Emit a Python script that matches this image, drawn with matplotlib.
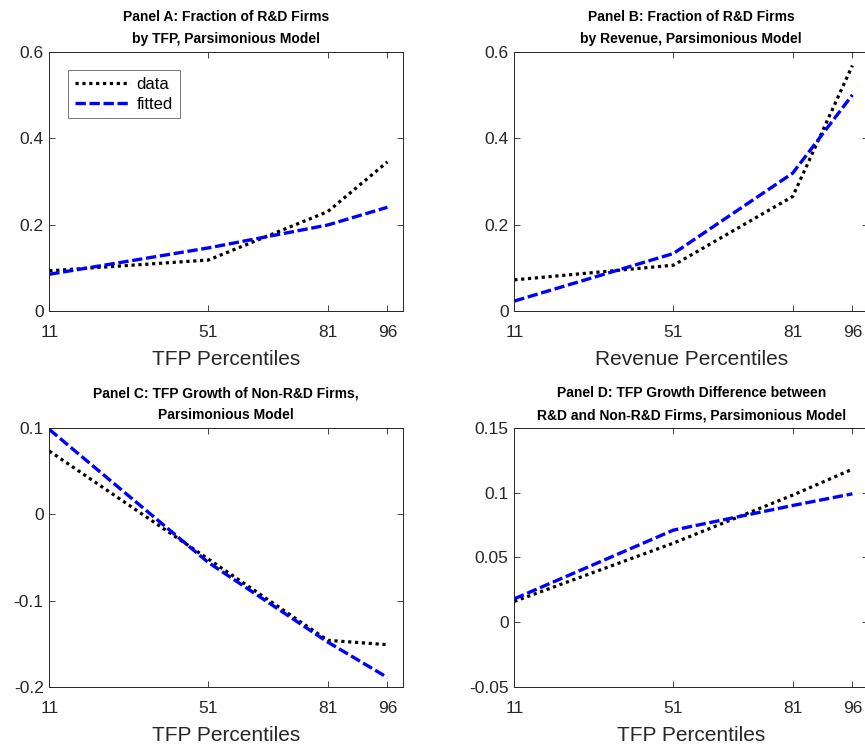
import numpy as np
import matplotlib
matplotlib.use("Agg")
import matplotlib.pyplot as plt
from matplotlib.ticker import FuncFormatter

# percentiles on the x axis
pct = [11, 51, 81, 96]

# Panel A: fraction of R&D firms by TFP
a_data = [0.093, 0.118, 0.230, 0.345]
a_fit = [0.085, 0.146, 0.199, 0.240]
# Panel B: fraction of R&D firms by revenue
b_data = [0.072, 0.106, 0.265, 0.568]
b_fit = [0.023, 0.133, 0.319, 0.500]
# Panel C: TFP growth of non-R&D firms
c_data = [0.073, -0.052, -0.146, -0.151]
c_fit = [0.098, -0.056, -0.148, -0.189]
# Panel D: TFP growth difference R&D vs non-R&D
d_data = [0.016, 0.061, 0.098, 0.118]
d_fit = [0.018, 0.071, 0.090, 0.099]

titles = ["Panel A: Fraction of R&D Firms\nby TFP, Parsimonious Model",
          "Panel B: Fraction of R&D Firms\nby Revenue, Parsimonious Model",
          "Panel C: TFP Growth of Non-R&D Firms,\nParsimonious Model",
          "Panel D: TFP Growth Difference between\nR&D and Non-R&D Firms, Parsimonious Model"]
xlabels = ["TFP Percentiles", "Revenue Percentiles", "TFP Percentiles", "TFP Percentiles"]
ylims = [(0, 0.6), (0, 0.6), (-0.2, 0.1), (-0.05, 0.15)]
yticks = [[0, 0.2, 0.4, 0.6], [0, 0.2, 0.4, 0.6], [-0.2, -0.1, 0, 0.1],
          [-0.05, 0, 0.05, 0.1, 0.15]]
series = [(a_data, a_fit), (b_data, b_fit), (c_data, c_fit), (d_data, d_fit)]

plt.rcParams['font.family'] = ['Liberation Sans', 'DejaVu Sans']
grey = '#262626'

fig = plt.figure(figsize=(8.65, 7.52), dpi=100)
W, H = 865, 752
boxes = [(49.3, 51.7), (514.3, 51.7), (49.3, 427.7), (514.3, 427.7)]
aw, ah = 354, 259.3

def fmt(v, pos):
    return '%g' % round(v, 4)

for i, (x0, y0) in enumerate(boxes):
    ax = fig.add_axes([x0 / W, 1 - (y0 + ah) / H, aw / W, ah / H])
    dat, fit = series[i]
    ax.plot(pct, dat, color='black', lw=2.3, linestyle=(0, (1.0, 1.15)),
            label='data', dash_capstyle='butt')
    ax.plot(pct, fit, color='#0000ff', lw=2.4, linestyle=(0, (3.1, 1.1)),
            label='fitted', dash_capstyle='butt')
    ax.set_xlim(11, 100)
    ax.set_ylim(*ylims[i])
    ax.set_xticks(pct)
    ax.set_yticks(yticks[i])
    ax.yaxis.set_major_formatter(FuncFormatter(fmt))
    ax.tick_params(direction='in', length=4, width=0.6, top=True, right=True,
                   labelsize=12.5, colors=grey)
    ax.tick_params(axis='x', pad=10)
    ax.tick_params(axis='y', pad=4)
    for sp in ax.spines.values():
        sp.set_color(grey)
        sp.set_linewidth(0.7)
    ax.set_xlabel(xlabels[i], fontsize=15, color=grey, labelpad=7)
    ax.set_title(titles[i], fontsize=10, fontweight='bold', pad=6, linespacing=1.75)
    if i == 0:
        leg = ax.legend(loc='upper left', bbox_to_anchor=(0.054, 0.929),
                        borderaxespad=0, fontsize=12, frameon=True,
                        fancybox=False, handlelength=3.3, borderpad=0.4,
                        labelspacing=0.3, handletextpad=0.4)
        leg.get_frame().set_edgecolor('#555555')
        leg.get_frame().set_linewidth(0.7)

fig.savefig("out.png", dpi=100)
